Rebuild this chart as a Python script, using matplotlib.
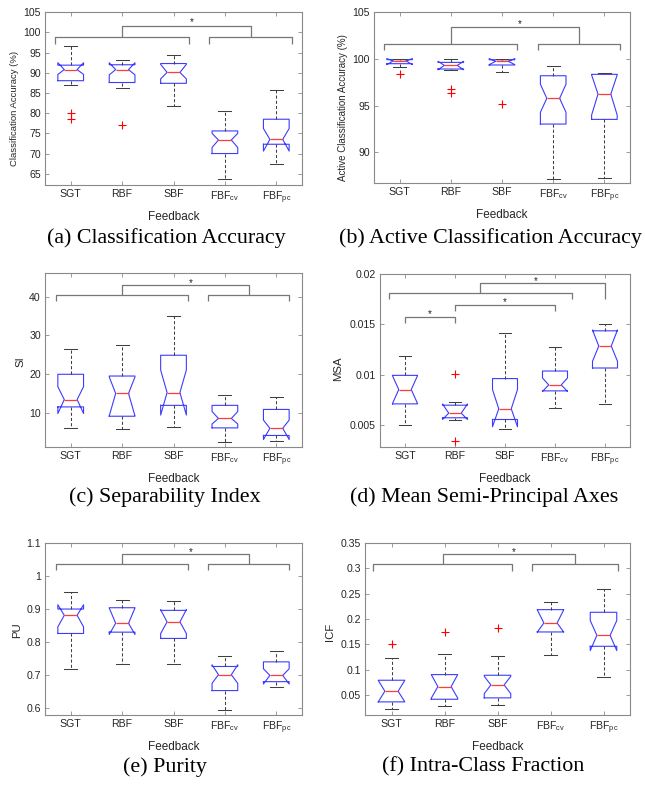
import matplotlib
matplotlib.use('Agg')
import matplotlib.pyplot as plt

plt.rcParams['font.family'] = ['Liberation Sans', 'DejaVu Sans']
plt.rcParams['mathtext.fontset'] = 'custom'
plt.rcParams['mathtext.rm'] = 'Liberation Sans'
plt.rcParams['mathtext.it'] = 'Liberation Sans:italic'

# ---------------- data ----------------
categories = ['SGT', 'RBF', 'SBF', r'FBF$_{\mathrm{cv}}$', r'FBF$_{\mathrm{pc}}$']
xlabel = 'Feedback'
ylabels = ['Classification Accuracy (%)', 'Active Classification Accuracy (%)',
           'SI', 'MSA', 'PU', 'ICF']
captions = ['(a) Classification Accuracy', '(b) Active Classification Accuracy',
            '(c) Separability Index', '(d) Mean Semi-Principal Axes',
            '(e) Purity', '(f) Intra-Class Fraction']

# rows: panels a..f ; columns: SGT, RBF, SBF, FBFcv, FBFpc
whislo = [[87.0, 86.2, 81.7, 63.8, 67.3],
          [99.1, 98.82, 98.6, 87.14, 87.25],
          [6.05, 5.9, 6.4, 2.6, 2.7],
          [0.00497, 0.00553, 0.00464, 0.00672, 0.00711],
          [0.716, 0.732, 0.734, 0.594, 0.662],
          [0.0224, 0.0289, 0.0316, 0.1285, 0.0853]]
q1 = [[88.05, 87.6, 87.4, 70.0, 72.3],
      [99.5, 98.93, 99.36, 93.04, 93.54],
      [11.6, 9.2, 12.0, 6.2, 4.25],
      [0.00711, 0.00573, 0.00556, 0.0084, 0.01067],
      [0.825, 0.829, 0.810, 0.652, 0.679],
      [0.0368, 0.042, 0.0447, 0.1744, 0.1462]]
cilo = [[89.6, 89.5, 88.5, 71.5, 70.6],
        [99.4, 98.85, 99.4, 94.3, 94.0],
        [9.9, 9.3, 9.5, 7.2, 3.2],
        [0.00715, 0.00556, 0.00484, 0.00835, 0.01133],
        [0.845, 0.822, 0.825, 0.674, 0.672],
        [0.037, 0.044, 0.053, 0.174, 0.1377]]
med = [[90.8, 90.8, 90.1, 73.35, 73.5],
       [99.8, 99.32, 99.75, 95.79, 96.25],
       [13.5, 15.07, 15.3, 8.63, 6.1],
       [0.00853, 0.00619, 0.00662, 0.00899, 0.01285],
       [0.880, 0.856, 0.860, 0.700, 0.698],
       [0.0578, 0.0669, 0.0702, 0.1921, 0.1678]]
cihi = [[92.5, 92.5, 92.1, 75.0, 76.2],
        [100.05, 99.75, 100.05, 97.3, 98.3],
        [16.8, 19.3, 21.1, 10.4, 8.2],
        [0.0099, 0.0071, 0.00853, 0.00968, 0.01445],
        [0.912, 0.902, 0.897, 0.730, 0.718],
        [0.079, 0.0905, 0.087, 0.218, 0.1967]]
q3 = [[91.9, 92.0, 92.3, 75.6, 78.5],
      [99.93, 99.64, 99.92, 98.21, 98.36],
      [20.0, 19.55, 24.9, 12.0, 10.95],
      [0.00994, 0.00698, 0.00962, 0.01037, 0.01436],
      [0.899, 0.903, 0.895, 0.725, 0.739],
      [0.0794, 0.0905, 0.0892, 0.2183, 0.2131]]
whishi = [[96.6, 93.1, 94.3, 80.45, 85.7],
          [100.0, 100.0, 100.0, 99.29, 98.54],
          [26.6, 27.45, 34.9, 14.73, 14.04],
          [0.01182, 0.00734, 0.01413, 0.01275, 0.01502],
          [0.951, 0.927, 0.924, 0.757, 0.773],
          [0.1226, 0.131, 0.1279, 0.234, 0.2596]]
outliers = [[[80.0, 78.6], [77.0], [], [], []],
            [[98.35], [96.75, 96.32], [95.14], [], []],
            [[], [], [], [], []],
            [[], [0.01008, 0.00342], [], [], []],
            [[], [], [], [], []],
            [[0.1508], [0.1737], [0.1816], [], []]]

ylims = [(62.2, 105), (86.7, 105), (1.2, 46), (0.0028, 0.02), (0.578, 1.1), (0.011, 0.35)]
yticks = [[65, 70, 75, 80, 85, 90, 95, 100, 105],
          [90, 95, 100, 105],
          [10, 20, 30, 40],
          [0.005, 0.01, 0.015, 0.02],
          [0.6, 0.7, 0.8, 0.9, 1.0, 1.1],
          [0.05, 0.1, 0.15, 0.2, 0.25, 0.3, 0.35]]
yticklabels = [['65', '70', '75', '80', '85', '90', '95', '100', '105'],
               ['90', '95', '100', '105'],
               ['10', '20', '30', '40'],
               ['0.005', '0.01', '0.015', '0.02'],
               ['0.6', '0.7', '0.8', '0.9', '1', '1.1'],
               ['0.05', '0.1', '0.15', '0.2', '0.25', '0.3', '0.35']]

# significance brackets: (x_left, x_right, y_bar, y_end_left, y_end_right)
brackets = [[(0.7, 3.3, 99.0, 97.1, 97.1), (3.7, 5.3, 99.0, 97.1, 97.1), (2.0, 4.5, 101.7, 99.0, 99.0)],
            [(0.7, 3.3, 101.6, 100.96, 100.96), (3.7, 5.3, 101.6, 100.96, 100.96), (2.0, 4.5, 103.43, 101.6, 101.6)],
            [(0.72, 3.28, 40.34, 38.8, 38.8), (3.68, 5.25, 40.34, 38.8, 38.8), (2.0, 4.47, 42.9, 40.34, 40.34)],
            [(1.0, 2.0, 0.01571, 0.01512, 0.01512), (2.0, 4.0, 0.01697, 0.01637, 0.01637),
             (0.67, 4.33, 0.01809, 0.0175, 0.0175), (2.5, 5.0, 0.01908, 0.01809, 0.0175)],
            [(0.72, 3.28, 1.035, 1.017, 1.017), (3.68, 5.25, 1.035, 1.017, 1.017), (2.0, 4.47, 1.065, 1.035, 1.035)],
            [(0.65, 3.28, 0.308, 0.295, 0.295), (3.66, 5.28, 0.308, 0.295, 0.295), (1.97, 4.47, 0.327, 0.308, 0.308)]]
stars = [[(3.35, 102.7)],
         [(3.35, 103.75)],
         [(3.33, 43.6)],
         [(1.5, 0.01604), (3.0, 0.01726), (3.62, 0.01934)],
         [(3.33, 1.072)],
         [(3.31, 0.3323)]]

# ---------------- layout ----------------
W, H = 645, 785
axes_px = [(45, 12.3, 302, 185), (374, 12.3, 630, 183.3),
           (45, 273.3, 302, 447.3), (380, 274, 630, 447.3),
           (45, 542.7, 302, 715), (365, 542.7, 630, 715)]
caption_pos = [(166, 238), (490, 238), (165, 497), (484, 497), (165, 767), (483, 767)]
ylabel_sizes = [6.8, 7.0, 8.2, 8.2, 8.2, 8.2]
ylabel_ypos = [0.446, 0.443, 0.49, 0.452, 0.49, 0.485]
ylabel_pads = [3, 3, 3, 5, 3, 4]

fig = plt.figure(figsize=(W / 100, H / 100), dpi=100)
fig.patch.set_facecolor('white')

box_c = '#3c3cff'
med_c = '#ff3c3c'
wh_c = '#404040'
spine_c = '#8a8a8a'
br_c = '#777777'

positions = [1, 2, 3, 4, 5]
for p in range(6):
    l, t, r, b = axes_px[p]
    ax = fig.add_axes([l / W, 1 - b / H, (r - l) / W, (b - t) / H])
    stats = []
    for i in range(5):
        stats.append(dict(med=med[p][i], q1=q1[p][i], q3=q3[p][i],
                          cilo=cilo[p][i], cihi=cihi[p][i],
                          whislo=whislo[p][i], whishi=whishi[p][i],
                          fliers=outliers[p][i]))
    ax.bxp(stats, positions=positions, widths=0.5, shownotches=True,
           showfliers=True, manage_ticks=False,
           boxprops=dict(color=box_c, linewidth=0.8),
           medianprops=dict(color=med_c, linewidth=0.9),
           whiskerprops=dict(color=wh_c, linewidth=0.75, linestyle=(0, (3, 2))),
           capprops=dict(color=wh_c, linewidth=0.75),
           flierprops=dict(marker='+', markeredgecolor='#ff0000', markersize=5.5,
                           markeredgewidth=0.8, linestyle='none'))
    for (xl, xr, yb, yel, yer) in brackets[p]:
        ax.plot([xl, xl, xr, xr], [yel, yb, yb, yer], color=br_c, lw=0.9,
                solid_capstyle='butt', clip_on=False)
    for (sx, sy) in stars[p]:
        ax.text(sx, sy, '*', ha='center', va='center', fontsize=7, color='#222222')
    ax.set_xlim(0.5, 5.5)
    ax.set_ylim(*ylims[p])
    ax.set_xticks(positions)
    ax.set_xticklabels(categories)
    ax.set_yticks(yticks[p])
    ax.set_yticklabels(yticklabels[p])
    ax.tick_params(direction='in', length=3, width=0.6, colors=spine_c,
                   labelcolor='#262626', labelsize=7.6, top=True, right=True, pad=3)
    for s in ax.spines.values():
        s.set_color(spine_c)
        s.set_linewidth(0.8)
    ax.set_xlabel(xlabel, fontsize=8.5, color='#262626', labelpad=4)
    ax.set_ylabel(ylabels[p], fontsize=ylabel_sizes[p], color='#262626',
                  labelpad=ylabel_pads[p])
    ax.yaxis.label.set_y(ylabel_ypos[p])
    cx, cy = caption_pos[p]
    fig.text(cx / W, 1 - cy / H, captions[p], ha='center', va='center',
             fontsize=15.8, family='Liberation Serif', color='black')

fig.savefig('out.png', dpi=100, facecolor='white')
